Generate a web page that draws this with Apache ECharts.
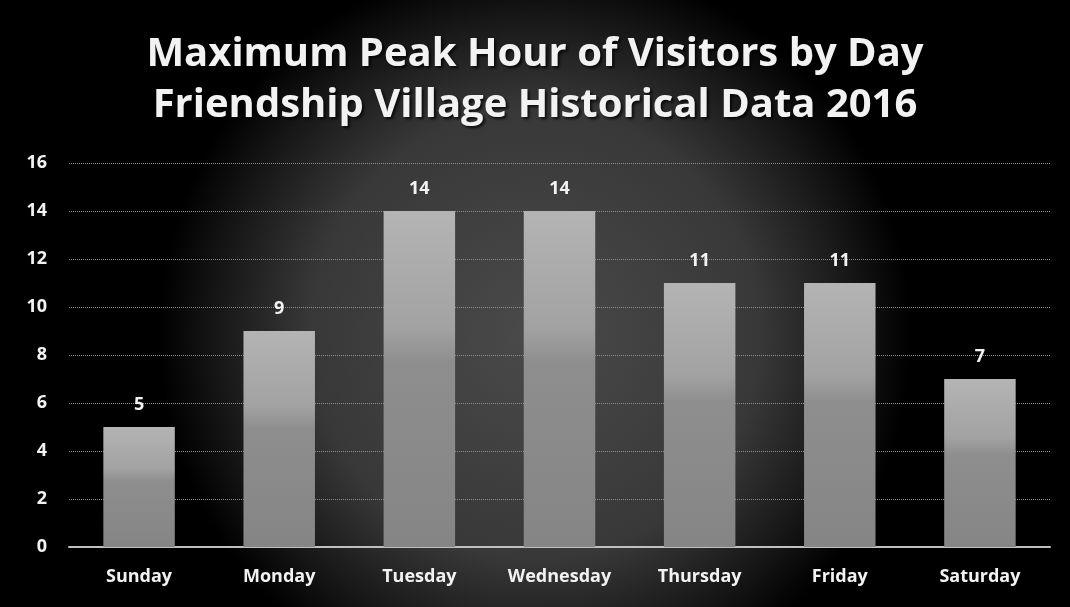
<!DOCTYPE html>
<html>
<head>
<meta charset="utf-8">
<script src="https://cdn.jsdelivr.net/npm/echarts@6/dist/echarts.min.js"></script>
<style>
	html, body { margin: 0; padding: 0; background: #000; }
	#chart { width: 1070px; height: 607px; }
</style>
</head>
<body>
<div id="chart"></div>
<script>
	var days = ['Sunday', 'Monday', 'Tuesday', 'Wednesday', 'Thursday', 'Friday', 'Saturday'];
	var peakVisitors = [5, 9, 14, 14, 11, 11, 7];
	var yTicks = [0, 2, 4, 6, 8, 10, 12, 14, 16];

	var Chart = echarts.init(document.getElementById('chart'));
	var option = {
		backgroundColor: {
			type: 'radial',
			x: 0.5, y: 0.55, r: 0.62,
			colorStops: [
				{ offset: 0, color: '#4a4a4a' },
				{ offset: 0.6, color: '#383838' },
				{ offset: 0.85, color: '#161616' },
				{ offset: 1, color: '#000' }
			]
		},
		title: {
			text: 'Maximum Peak Hour of Visitors by Day\nFriendship Village Historical Data 2016',
			left: 'center',
			top: 24,
			textStyle: {
				color: '#f2f2f2',
				fontFamily: 'Open Sans',
				fontWeight: 'bold',
				fontSize: 40,
				lineHeight: 51,
				textShadowColor: 'rgba(0,0,0,0.8)',
				textShadowBlur: 3,
				textShadowOffsetX: 2,
				textShadowOffsetY: 2
			}
		},
		grid: {
			left: 69,
			right: 20,
			top: 163,
			bottom: 60
		},
		xAxis: {
			type: 'category',
			data: days,
			axisLine: { lineStyle: { color: '#bfbfbf', width: 2 } },
			axisTick: { show: false },
			axisLabel: {
				interval: 0,
				color: '#f2f2f2',
				fontFamily: 'Open Sans',
				fontWeight: 'bold',
				fontSize: 18,
				margin: 21
			}
		},
		yAxis: {
			type: 'value',
			min: yTicks[0],
			max: yTicks[yTicks.length - 1],
			interval: 2,
			axisLine: { show: false },
			axisTick: { show: false },
			axisLabel: {
				color: '#f2f2f2',
				fontFamily: 'Open Sans',
				fontWeight: 'bold',
				fontSize: 18,
				margin: 22
			},
			splitLine: { lineStyle: { color: '#8c8c8c', width: 1, type: 'dotted' } }
		},
		series: [{
			name: 'Visitors',
			type: 'bar',
			data: peakVisitors,
			barWidth: '51%',
			itemStyle: {
				color: {
					type: 'linear', x: 0, y: 0, x2: 0, y2: 1,
					colorStops: [
						{ offset: 0, color: '#b4b4b4' },
						{ offset: 0.35, color: '#a2a2a2' },
						{ offset: 0.45, color: '#8e8e8e' },
						{ offset: 1, color: '#858585' }
					]
				}
			},
			label: {
				show: true,
				position: 'top',
				distance: 13,
				color: '#f2f2f2',
				fontFamily: 'Open Sans',
				fontWeight: 'bold',
				fontSize: 18
			}
		}],
		animation: false
	};
	Chart.setOption(option);
</script>
</body>
</html>
